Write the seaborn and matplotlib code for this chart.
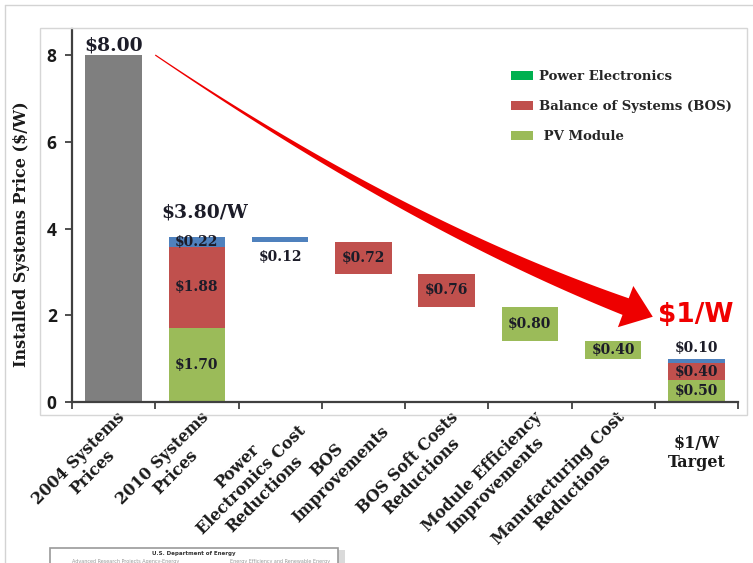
import numpy as np
import pandas as pd
import matplotlib
matplotlib.use("Agg")
import matplotlib.pyplot as plt
import seaborn as sns
from matplotlib.patches import Patch, Polygon, Rectangle
from matplotlib.lines import Line2D
from matplotlib.transforms import ScaledTranslation

# ---- data -------------------------------------------------------------
steps = [
    "2004 Systems\nPrices",
    "2010 Systems\nPrices",
    "Power\nElectronics Cost\nReductions",
    "BOS\nImprovements",
    "BOS Soft Costs\nReductions",
    "Module Efficiency\nImprovements",
    "Manufacturing Cost\nReductions",
    "\\$1/W\nTarget",
]
price_2004 = 8.00
pv_2010 = 1.70
bos_2010 = 1.88
pe_2010 = 0.22
# reductions applied one after another (step index, component, amount)
reduction_steps = [2, 3, 4, 5, 6]
reduction_parts = ["pe", "bos", "bos", "pv", "pv"]
reduction_values = [0.12, 0.72, 0.76, 0.80, 0.40]
pv_target = 0.50
bos_target = 0.40
pe_target = 0.10

colors = {"total": "#7F7F7F", "pv": "#9BBB59", "bos": "#C0504D", "pe": "#4F81BD"}
legend_colors = ["#00B050", "#C0504D", "#9BBB59"]
legend_labels = ["Power Electronics", "Balance of Systems (BOS)", " PV Module"]

# ---- bar geometry (height + bottom per component) ---------------------
n = len(steps)
comps = ["total", "pv", "bos", "pe"]
heights = {c: np.zeros(n) for c in comps}
bottoms = {c: np.zeros(n) for c in comps}
heights["total"][0] = price_2004
heights["pv"][1] = pv_2010
heights["bos"][1], bottoms["bos"][1] = bos_2010, pv_2010
heights["pe"][1], bottoms["pe"][1] = pe_2010, pv_2010 + bos_2010
level = pv_2010 + bos_2010 + pe_2010
for i, part, v in zip(reduction_steps, reduction_parts, reduction_values):
    level -= v
    heights[part][i] = v
    bottoms[part][i] = level
heights["pv"][7] = pv_target
heights["bos"][7], bottoms["bos"][7] = bos_target, pv_target
heights["pe"][7], bottoms["pe"][7] = pe_target, pv_target + bos_target

# ---- figure -----------------------------------------------------------
sns.set_style("ticks")
SERIF = ["DejaVu Serif"]
W, H = 753, 563
fig = plt.figure(figsize=(W / 100, H / 100), dpi=100)
ax = fig.add_axes([72 / W, (H - 402) / H, 666 / W, 373 / H])

for c in comps:
    df = pd.DataFrame({"step": steps, "value": heights[c]})
    sns.barplot(data=df, x="step", y="value", order=steps, bottom=bottoms[c],
                color=colors[c], saturation=1, width=0.68, errorbar=None,
                linewidth=0, ax=ax, zorder=2)

ax.set_xlim(-0.5, n - 0.5)
ax.set_ylim(0, 8.6)
ax.set_xlabel("")
ax.set_ylabel("Installed Systems Price (\\$/W)", fontsize=11.5, fontweight="bold",
              family=SERIF, color="#1a1a1a")
ax.yaxis.set_label_coords(-0.063, 0.45)

sns.despine(ax=ax)
for side in ["left", "bottom"]:
    ax.spines[side].set_color("#404040")
    ax.spines[side].set_linewidth(1.6)

ax.set_yticks([0, 2, 4, 6, 8])
ax.set_yticklabels(["0", "2", "4", "6", "8"], fontsize=12.5, fontweight="bold",
                   family=["Open Sans"], color="#1a1a1a")
ax.tick_params(axis="y", length=5, width=1.3, color="#404040", pad=6)

ax.set_xticks(np.arange(n))
ax.set_xticks(np.arange(n + 1) - 0.5, minor=True)
ax.tick_params(axis="x", which="major", length=0, pad=4)
ax.tick_params(axis="x", which="minor", length=5, width=1.3, color="#404040")
ax.set_xticklabels(steps, rotation=45, ha="right", rotation_mode="anchor",
                   fontsize=11.5, fontweight="bold", family=SERIF, color="#1a1a1a",
                   multialignment="center")
for lab in ax.get_xticklabels()[:-1]:
    lab.set_transform(lab.get_transform() + ScaledTranslation(3 / 100, -1 / 100, fig.dpi_scale_trans))
last = ax.get_xticklabels()[-1]
last.set_rotation(0)
last.set_ha("center")
last.set_transform(last.get_transform() + ScaledTranslation(0, -27 / 100, fig.dpi_scale_trans))

# ---- value labels -----------------------------------------------------
txt = dict(fontweight="bold", family=SERIF, color="#1c1c28", ha="center", va="center", zorder=5)
ax.text(0, price_2004 + 0.02, f"\\${price_2004:.2f}", fontsize=13.5, **{**txt, "va": "bottom"})
total_2010 = pv_2010 + bos_2010 + pe_2010
ax.text(1.1, total_2010 + 0.58, f"\\${total_2010:.2f}/W", fontsize=13.5, **txt)
ax.text(1, pv_2010 / 2, f"\\${pv_2010:.2f}", fontsize=10, **txt)
ax.text(1, pv_2010 + bos_2010 / 2, f"\\${bos_2010:.2f}", fontsize=10, **txt)
ax.text(1, pv_2010 + bos_2010 + pe_2010 / 2, f"\\${pe_2010:.2f}", fontsize=10, **txt)
for i, part, v in zip(reduction_steps, reduction_parts, reduction_values):
    b = bottoms[part][i]
    y = b - 0.34 if v < 0.2 else b + v / 2
    ax.text(i, y, f"\\${v:.2f}", fontsize=10, **txt)
ax.text(7, pv_target / 2, f"\\${pv_target:.2f}", fontsize=10, **txt)
ax.text(7, pv_target + bos_target / 2, f"\\${bos_target:.2f}", fontsize=10, **txt)
ax.text(7, pv_target + bos_target + pe_target + 0.24, f"\\${pe_target:.2f}", fontsize=10, **txt)
ax.text(6.54, 2.0, "\\$1/W", fontsize=19, fontweight="bold", family=["DejaVu Sans"],
        color="#F00000", ha="left", va="center", zorder=5)

# ---- tapered trend arrow ---------------------------------------------
p0 = np.array([0.5, price_2004])
ctrl = np.array([3.5, 4.1])
p2 = np.array([6.15, 2.2])
t = np.linspace(0, 1, 300)[:, None]
curve = (1 - t) ** 2 * p0 + 2 * (1 - t) * t * ctrl + t ** 2 * p2
disp = ax.transData.transform(curve)
tang = np.gradient(disp, axis=0)
tang /= np.linalg.norm(tang, axis=1)[:, None]
norm = np.column_stack([-tang[:, 1], tang[:, 0]])
width = 1.2 + 16.5 * t[:, 0] ** 1.4
left = disp + norm * width[:, None] / 2
right = disp - norm * width[:, None] / 2
base, d, nv = disp[-1], tang[-1], norm[-1]
head = np.array([base + nv * 22, base + d * 29, base - nv * 22])
outline = np.vstack([left, head, right[::-1]])
ax.add_patch(Polygon(ax.transData.inverted().transform(outline), closed=True,
                     facecolor="#EE0000", edgecolor="none", zorder=4, clip_on=False))

# ---- legend -----------------------------------------------------------
handles = [Patch(facecolor=c, edgecolor="none", label=l) for c, l in zip(legend_colors, legend_labels)]
fig.legend(handles=handles, loc="upper left", bbox_to_anchor=(511 / W, (H - 70) / H),
           frameon=False, prop={"family": SERIF, "weight": "bold", "size": 9.5},
           handlelength=1.7, handleheight=0.65, labelspacing=1.3, handletextpad=0.45,
           borderpad=0, borderaxespad=0)

# ---- frames -----------------------------------------------------------
fig.add_artist(Rectangle((40 / W, (H - 415) / H), 707 / W, 387 / H, transform=fig.transFigure,
                         fill=False, edgecolor="#D6D6D6", linewidth=1))
fig.add_artist(Line2D([5 / W, 1], [1 - 5 / H] * 2, transform=fig.transFigure, color="#D3D3D3", lw=1))
fig.add_artist(Line2D([5 / W] * 2, [0, 1 - 5 / H], transform=fig.transFigure, color="#D3D3D3", lw=1))

# document thumbnail
fig.add_artist(Rectangle((338 / W, 0), 7 / W, 13 / H, transform=fig.transFigure,
                         facecolor="#DADADA", edgecolor="none"))
fig.add_artist(Rectangle((50 / W, -5 / H), 288 / W, 20 / H, transform=fig.transFigure,
                         facecolor="white", edgecolor="#9A9A9A", linewidth=1.2))
fig.text(194 / W, (H - 553) / H, "U.S. Department of Energy", fontsize=4, ha="center",
         va="center", color="#333333", fontweight="bold")
fig.text(72 / W, (H - 561) / H, "Advanced Research Projects Agency-Energy", fontsize=3.5,
         ha="left", va="center", color="#999999")
fig.text(330 / W, (H - 561) / H, "Energy Efficiency and Renewable Energy", fontsize=3.5,
         ha="right", va="center", color="#999999")

fig.savefig("out.png", dpi=100)
